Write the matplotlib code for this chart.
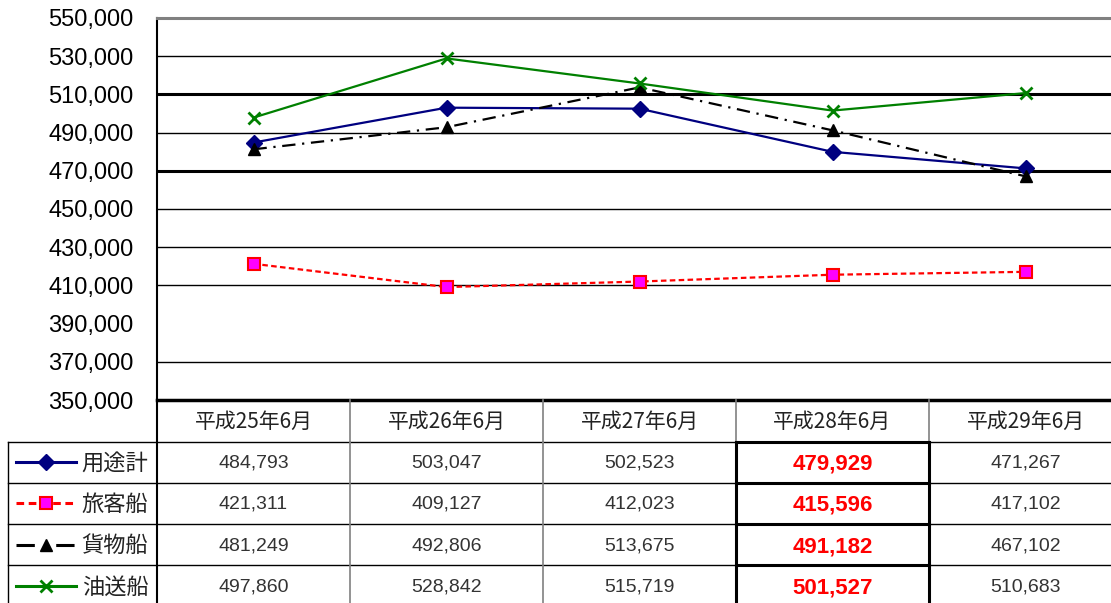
import matplotlib
matplotlib.use("Agg")
import matplotlib.pyplot as plt
from matplotlib.transforms import blended_transform_factory

# data
months = ["平成25年6月", "平成26年6月", "平成27年6月", "平成28年6月", "平成29年6月"]
series_names = ["用途計", "旅客船", "貨物船", "油送船"]
total = [484793, 503047, 502523, 479929, 471267]
passenger = [421311, 409127, 412023, 415596, 417102]
cargo = [481249, 492806, 513675, 491182, 467102]
tanker = [497860, 528842, 515719, 501527, 510683]
highlight_col = 3

yticks = list(range(350000, 550001, 20000))
thick_grid = [510000, 470000]
thin_grid = [530000, 490000, 450000, 430000, 410000, 370000]

styles = [
    dict(color="#000080", ls="-", marker="D", ms=8, mfc="#000080", mec="#000080", lw=1.6),
    dict(color="#ff0000", ls=(0, (2.5, 1.5)), marker="s", ms=8, mfc="#ff00ff", mec="#ff0000", mew=1.5, lw=1.6),
    dict(color="#000000", ls=(0, (6, 3, 1, 3)), marker="^", ms=9, mfc="#000000", mec="#000000", lw=1.6),
    dict(color="#008000", ls="-", marker="x", ms=9, mfc="#008000", mec="#008000", mew=2, lw=1.6),
]
values = [total, passenger, cargo, tanker]

W, H = 1111, 603
fig = plt.figure(figsize=(W / 100, H / 100), dpi=100)
fig.patch.set_facecolor("white")

ax = fig.add_axes([157 / W, 1 - 400 / H, (1122 - 157) / W, 382 / H])
x = list(range(len(months)))
for vals, st in zip(values, styles):
    ax.plot(x, vals, zorder=3, **st)

ax.set_xlim(-0.5, len(months) - 0.5)
ax.set_ylim(350000, 550000)
ax.set_xticks([])
ax.set_yticks(yticks)
ax.set_yticklabels([f"{v:,}" for v in yticks], fontfamily="Liberation Sans", fontsize=17)
ax.tick_params(axis="y", length=0, pad=17)
for g in thin_grid:
    ax.axhline(g, color="black", lw=1.0, zorder=1)
for g in thick_grid:
    ax.axhline(g, color="black", lw=2.2, zorder=1)
ax.spines["right"].set_visible(False)
ax.spines["top"].set_color("#808080")
ax.spines["top"].set_linewidth(2.2)
ax.spines["left"].set_linewidth(1.5)
ax.spines["bottom"].set_linewidth(2.5)

# table overlay in pixel coordinates
ax_t = fig.add_axes([0, 0, 1, 1])
ax_t.set_xlim(0, W)
ax_t.set_ylim(H, 0)
ax_t.axis("off")
ax_t.patch.set_alpha(0)
bt = blended_transform_factory(ax.transData, ax_t.transData)

head_top, head_bot, row_h = 400, 441.5, 41.3
left_edge = 8
n = len(months)
rows_y = [head_bot + row_h * i for i in range(len(series_names) + 1)]

# horizontal lines
for y in rows_y[:-1]:
    ax_t.plot([left_edge, W], [y, y], color="black", lw=1.0)
for y in rows_y[:-1]:
    ax_t.plot([highlight_col - 0.5, highlight_col + 0.5], [y, y], color="black", lw=2.2, transform=bt)
# vertical lines
ax_t.plot([left_edge, left_edge], [head_bot, H], color="black", lw=1.0)
ax_t.plot([157, 157], [head_top, H], color="black", lw=1.5)
for i in range(1, n):
    xb = i - 0.5
    ax_t.plot([xb, xb], [head_top, head_bot], color="#808080", lw=1.2, transform=bt)
    if i in (highlight_col, highlight_col + 1):
        ax_t.plot([xb, xb], [head_bot, H], color="black", lw=2.2, transform=bt)
    else:
        ax_t.plot([xb, xb], [head_bot, H], color="#808080", lw=1.2, transform=bt)

# header text
for i, m in enumerate(months):
    ax_t.text(i, (head_top + head_bot) / 2 + 1, m, transform=bt, ha="center", va="center",
              fontsize=15, family=["Noto Sans CJK JP", "DejaVu Sans"], color="#222222")

# legend column + values
for r, (name, vals, st) in enumerate(zip(series_names, values, styles)):
    yc = (rows_y[r] + rows_y[r + 1]) / 2
    ax_t.plot([16, 76], [yc, yc], color=st["color"], ls=st["ls"], lw=2.2)
    ax_t.plot([46], [yc], marker=st["marker"], ms=st["ms"], mfc=st["mfc"], mec=st["mec"],
              mew=st.get("mew", 1), ls="none")
    ax_t.text(115, yc + 1, name, ha="center", va="center", fontsize=16,
              family=["Noto Sans CJK JP", "DejaVu Sans"], color="#222222")
    for i, v in enumerate(vals):
        if i == highlight_col:
            ax_t.text(i, yc + 2, f"{v:,}", transform=bt, ha="center", va="center",
                      fontsize=16, family="Liberation Sans", fontweight="bold", color="#ff0000")
        else:
            ax_t.text(i, yc + 1, f"{v:,}", transform=bt, ha="center", va="center",
                      fontsize=14, family="Liberation Sans", color="#333333")

fig.savefig("out.png", dpi=100)
